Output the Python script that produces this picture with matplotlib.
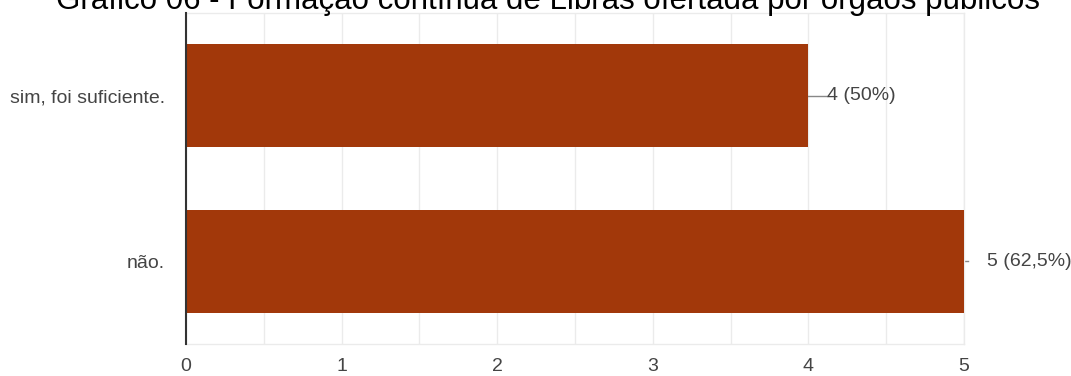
import matplotlib.pyplot as plt
from matplotlib.ticker import MultipleLocator

plt.rcParams['font.family'] = ['Liberation Sans', 'DejaVu Sans']

# Respostas e contagens
categorias = ['sim, foi suficiente.', 'não.']
valores = [4, 5]
rotulos = ['4 (50%)', '5 (62,5%)']
titulo = 'Gráfico 06 - Formação contínua de Libras ofertada por órgãos públicos'

cor_barra = '#A2380A'
cinza = '#444444'

W, H = 1071, 376
fig = plt.figure(figsize=(W / 100, H / 100), dpi=100)
ax = fig.add_axes([186 / W, 1 - 344 / H, (964 - 186) / W, (344 - 13) / H])

pos = list(range(len(categorias)))
ax.barh(pos, valores, height=0.62, color=cor_barra, zorder=3)
ax.set_ylim(len(categorias) - 0.5, -0.5)
ax.set_xlim(0, 5)
ax.set_yticks(pos)
ax.set_yticklabels(categorias)

ax.xaxis.set_major_locator(MultipleLocator(1))
ax.xaxis.set_minor_locator(MultipleLocator(0.5))
ax.grid(axis='x', which='both', color='#ebebeb', linewidth=1, zorder=0)

for lado in ['top', 'right', 'bottom']:
    ax.spines[lado].set_color('#ebebeb')
    ax.spines[lado].set_linewidth(1)
ax.spines['left'].set_color('#333333')
ax.spines['left'].set_linewidth(1.5)
ax.spines['left'].set_zorder(4)

ax.tick_params(axis='both', which='both', length=0, colors=cinza, labelsize=14)
ax.tick_params(axis='x', pad=10)
ax.tick_params(axis='y', pad=15)

# Rótulos de valor; a barra mais longa fica com a chamada quase escondida
for p, v, r in zip(pos, valores, rotulos):
    longa = v == max(valores)
    fim = v + (0.025 if longa else 0.12)
    ax.plot([v, fim], [p, p], color='#888888', linewidth=1, zorder=2, clip_on=False)
    ax.annotate(r, xy=(fim, p), xytext=(14 if longa else 0, 0), textcoords='offset points',
                va='center', ha='left', fontsize=14, color=cinza, annotation_clip=False)

# Título cortado no topo da imagem
fig.text(0.512, 1 - 9 / H, titulo, ha='center', va='baseline', fontsize=22.5, color='black')

fig.savefig('out.png', dpi=100)
